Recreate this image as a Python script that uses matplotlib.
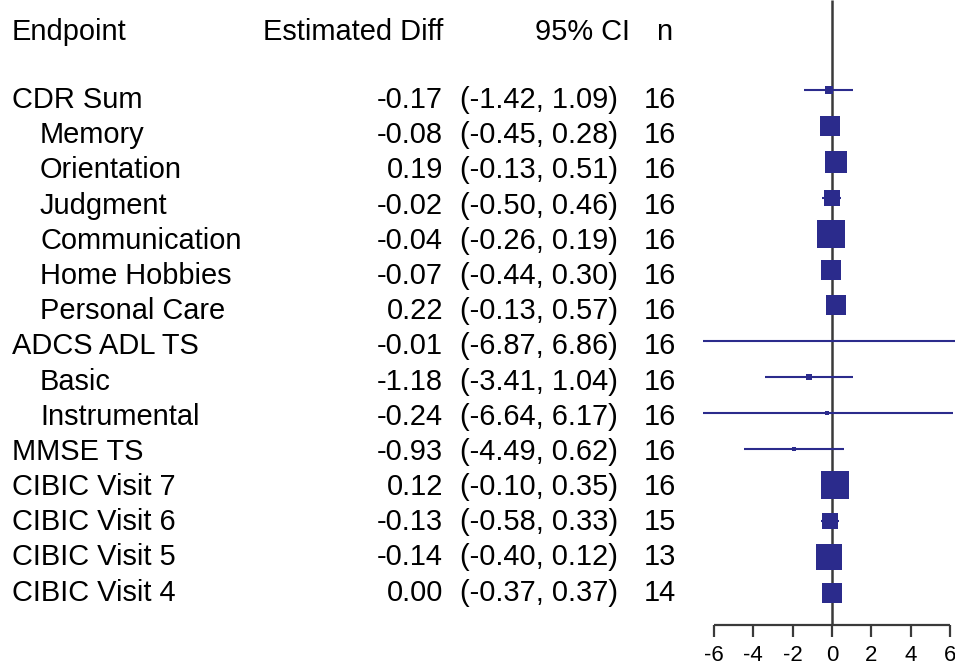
import matplotlib
matplotlib.use("Agg")
import matplotlib.pyplot as plt
from matplotlib.transforms import blended_transform_factory

# --- data ---
endpoints = ["CDR Sum", "Memory", "Orientation", "Judgment", "Communication",
             "Home Hobbies", "Personal Care", "ADCS ADL TS", "Basic", "Instrumental",
             "MMSE TS", "CIBIC Visit 7", "CIBIC Visit 6", "CIBIC Visit 5", "CIBIC Visit 4"]
indent = [0, 1, 1, 1, 1, 1, 1, 0, 1, 1, 0, 0, 0, 0, 0]
est_diff = [-0.17, -0.08, 0.19, -0.02, -0.04, -0.07, 0.22, -0.01, -1.18, -0.24,
            -0.93, 0.12, -0.13, -0.14, 0.00]
ci_lo = [-1.42, -0.45, -0.13, -0.50, -0.26, -0.44, -0.13, -6.87, -3.41, -6.64,
         -4.49, -0.10, -0.58, -0.40, -0.37]
ci_hi = [1.09, 0.28, 0.51, 0.46, 0.19, 0.30, 0.57, 6.86, 1.04, 6.17,
         0.62, 0.35, 0.33, 0.12, 0.37]
n_obs = [16, 16, 16, 16, 16, 16, 16, 16, 16, 16, 16, 16, 15, 13, 14]
# box side (relative weight) as drawn, in pixels
box_px = [8, 20, 22, 15, 28, 19, 19, 1, 6, 3, 3, 28, 15, 25, 19]
xticks = [-6, -4, -2, 0, 2, 4, 6]

NAVY = "#2b2b8c"
GREY = "#3a3a3a"
W, H = 955, 667
FS = 20.9
ROW = 35.9  # px between rows

fig = plt.figure(figsize=(W / 100, H / 100), dpi=100)
fig.patch.set_facecolor("white")

# forest panel on the right; rows in "row units" (row 0 at y=90px)
ax = fig.add_axes([703 / W, 0, (W - 703) / W, 1])
ax.set_xlim(-6.56, 6.25)
ax.set_ylim((H - 90) / ROW, -90 / ROW)
ax.axis("off")

axis_row = (625 - 90) / ROW
tick_len = 12 / ROW

# zero line
ax.vlines(0, -90 / ROW, axis_row, color=GREY, lw=1.8, zorder=1)

rows = list(range(len(endpoints)))
for r, lo, hi, sz in zip(rows, ci_lo, ci_hi, box_px):
    ax.hlines(r, lo, hi, color=NAVY, lw=1.5, zorder=2)
    ax.plot((lo + hi) / 2, r, marker="s", ms=sz * 0.74, color=NAVY,
            mec=NAVY, mew=0, ls="none", zorder=3)

# bottom axis, ticks hanging down
ax.hlines(axis_row, xticks[0], xticks[-1], color=GREY, lw=1.6)
ax.vlines(xticks, axis_row, axis_row + tick_len, color=GREY, lw=1.6)
for t in xticks:
    ax.text(t, (666 - 90) / ROW, f"{t:d}", ha="center", va="bottom",
            fontsize=16, family="Liberation Sans")

# table text on the left
tr = blended_transform_factory(fig.transFigure, ax.transData)
txt = dict(fontsize=FS, family="Liberation Sans", va="center", transform=tr,
           clip_on=False)

head_row = (32 - 90) / ROW
ax.text(12 / W, head_row, "Endpoint", ha="left", **txt)
ax.text(443 / W, head_row, "Estimated Diff", ha="right", **txt)
ax.text(630 / W, head_row, "95% CI", ha="right", **txt)
ax.text(672 / W, head_row, "n", ha="right", **txt)

for r, name, lev, e, lo, hi, n in zip(rows, endpoints, indent, est_diff, ci_lo, ci_hi, n_obs):
    ty = 0.28 + 0.98 * r
    ax.text((12 + 28 * lev) / W, ty, name, ha="left", **txt)
    ax.text(443 / W, ty, f"{e:.2f}", ha="right", **txt)
    ax.text(460 / W, ty, f"({lo:.2f}, {hi:.2f})", ha="left", **txt)
    ax.text(676 / W, ty, f"{n}", ha="right", **txt)

fig.savefig("out.png", dpi=100, facecolor="white")
